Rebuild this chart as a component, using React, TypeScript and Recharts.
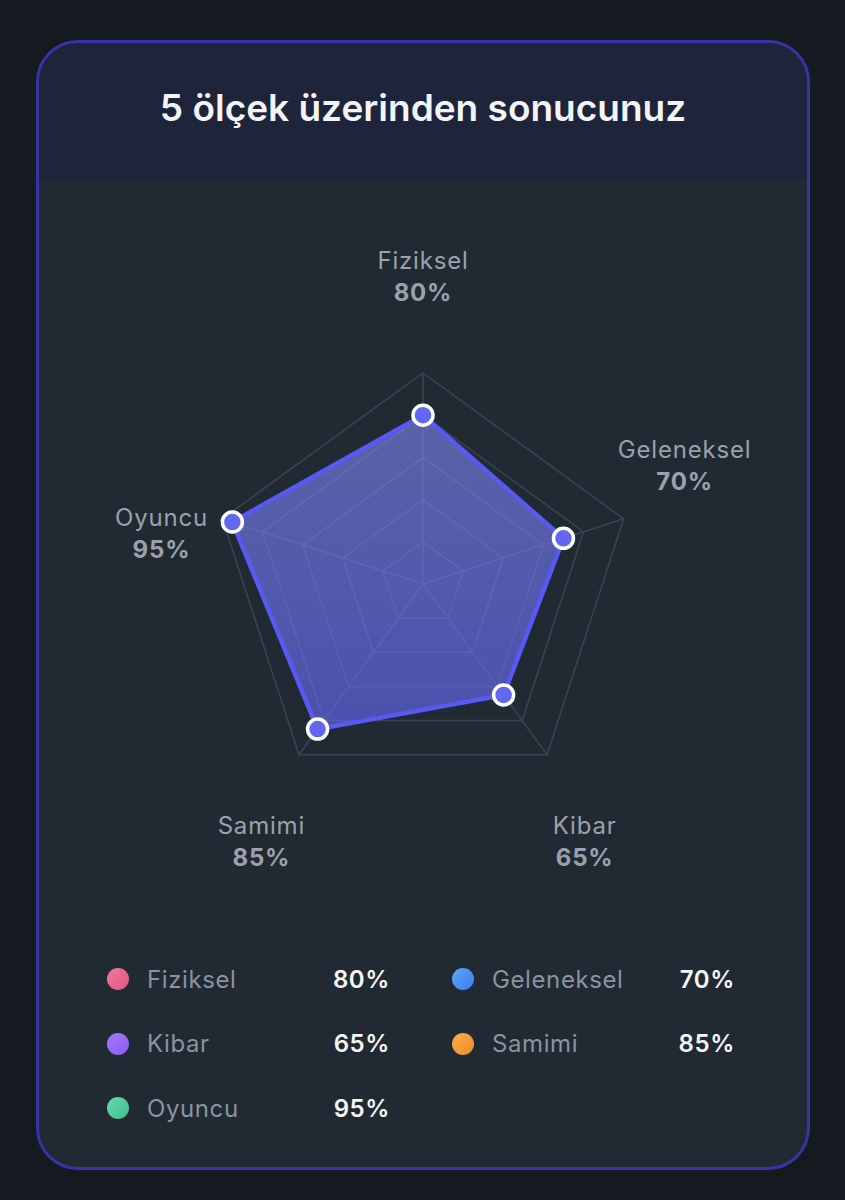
import React from 'react';
import { RadarChart, Radar, PolarGrid, PolarAngleAxis, PolarRadiusAxis } from 'recharts';

const title = '5 ölçek üzerinden sonucunuz';
const categories = ['Fiziksel', 'Geleneksel', 'Kibar', 'Samimi', 'Oyuncu'];
const scores = [80, 70, 65, 85, 95];
const radiusTicks = [0, 20, 40, 60, 80, 100];

const dotGradients = [
  ['#f07a9c', '#e45583'],
  ['#60a5fa', '#3b7df0'],
  ['#a57af7', '#8b5cf6'],
  ['#f8b04a', '#f08a2a'],
  ['#6fd6ad', '#3cbf8e'],
];

const data = categories.map((name, i) => ({ name, value: scores[i] }));

const FONT = 'Inter, "Noto Sans", "DejaVu Sans", sans-serif';
const CX = 423;
const CY = 404;
const R = 211;
const CHART_TOP = 180;

const AngleTick = (props: any) => {
  const { x, y, payload } = props;
  const dx = x - CX;
  const dy = y - CY;
  const len = Math.sqrt(dx * dx + dy * dy) || 1;
  const ux = dx / len;
  const uy = dy / len;
  const lr = R + 64;
  let px = CX + ux * lr;
  let py = CY + uy * lr;
  if (uy < -0.9) py -= 33;
  else if (uy > 0.5) py += 35;
  else if (ux > 0) py -= 34;
  else py += 34;
  const idx = categories.indexOf(payload.value);
  return (
    <g>
      <text x={px} y={py - 16} textAnchor="middle" dominantBaseline="central" fill="#9aa1ad" fontSize={24} letterSpacing={0.8} fontFamily={FONT} fontWeight={400}>
        {payload.value}
      </text>
      <text x={px} y={py + 16} textAnchor="middle" dominantBaseline="central" fill="#9aa1ad" fontSize={24} letterSpacing={0.8} fontFamily={FONT} fontWeight={700}>
        {scores[idx]}%
      </text>
    </g>
  );
};

const Dot = (props: any) => {
  const { cx, cy } = props;
  return <circle cx={cx} cy={cy} r={10} fill="#6366f1" stroke="#ffffff" strokeWidth={3.5} />;
};

export default function App() {
  return (
    <div style={{ position: 'absolute', left: 0, top: 0, width: 845, height: 1200, background: '#141a20', overflow: 'hidden', fontFamily: FONT }}>
      <div
        style={{
          position: 'absolute',
          left: 36,
          top: 40,
          width: 774,
          height: 1130,
          boxSizing: 'border-box',
          border: '3px solid #3a33a6',
          borderRadius: 42,
          overflow: 'hidden',
          background: '#212932',
        }}
      >
        <div
          style={{
            height: 137,
            background: '#1e2439',
            display: 'flex',
            alignItems: 'center',
            justifyContent: 'center',
            color: '#f2f4f8',
            fontSize: 37,
            fontWeight: 600,
            paddingBottom: 8,
            boxSizing: 'border-box',
          }}
        >
          {title}
        </div>
      </div>
      <div style={{ position: 'absolute', left: 0, top: CHART_TOP }}>
        <RadarChart width={845} height={720} data={data} cx={CX} cy={CY} outerRadius={R} startAngle={90} endAngle={-270}>
          <defs>
            <linearGradient id="radarFill" x1="0" y1="0" x2="0" y2="1">
              <stop offset="0%" stopColor="#8188f5" stopOpacity={0.6} />
              <stop offset="100%" stopColor="#6366f1" stopOpacity={0.65} />
            </linearGradient>
          </defs>
          <PolarGrid gridType="polygon" stroke="#3c4451" strokeWidth={1.5} />
          <PolarRadiusAxis domain={[0, 100]} ticks={radiusTicks as any} tickCount={6} tick={false} axisLine={false} />
          <PolarAngleAxis dataKey="name" tick={<AngleTick />} tickLine={false} axisLine={false} />
          <Radar
            dataKey="value"
            stroke="#5858f2"
            strokeWidth={4.5}
            fill="url(#radarFill)"
            fillOpacity={1}
            dot={<Dot />}
            isAnimationActive={false}
          />
        </RadarChart>
      </div>
      <div
        style={{
          position: 'absolute',
          left: 107,
          top: 947,
          display: 'grid',
          gridTemplateColumns: '283px 283px',
          columnGap: 62,
          gridAutoRows: '64.5px',
        }}
      >
        {categories.map((name, i) => (
          <div key={name} style={{ display: 'flex', alignItems: 'center', height: 64 }}>
            <div
              style={{
                width: 22,
                height: 22,
                borderRadius: 11,
                background: `linear-gradient(135deg, ${dotGradients[i][0]}, ${dotGradients[i][1]})`,
                flexShrink: 0,
              }}
            />
            <div style={{ marginLeft: 18, color: '#8a93a0', fontSize: 24, letterSpacing: 0.6, flex: 1 }}>{name}</div>
            <div style={{ color: '#f4f6f9', fontSize: 24, letterSpacing: 0.6, fontWeight: 600 }}>{scores[i]}%</div>
          </div>
        ))}
      </div>
    </div>
  );
}
